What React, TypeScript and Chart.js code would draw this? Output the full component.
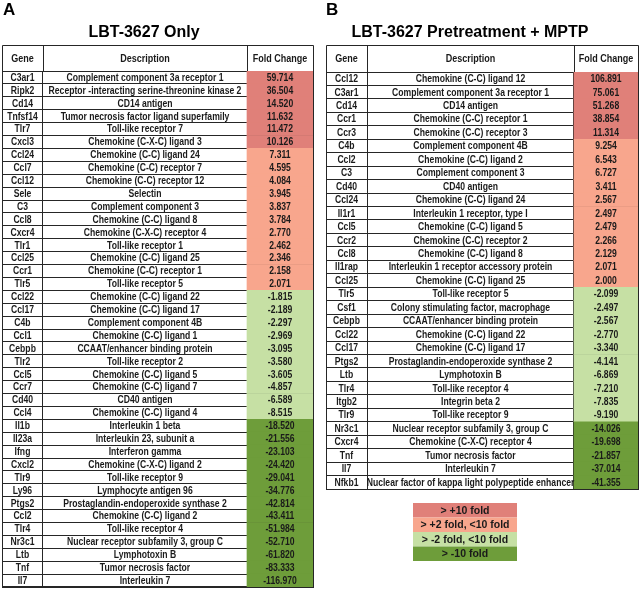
import React, { useEffect, useRef } from "react";
import { Chart, registerables } from "chart.js";
Chart.register(...registerables);

// ---------- data ----------
const genesA = ["C3ar1","Ripk2","Cd14","Tnfsf14","Tlr7","Cxcl3","Ccl24","Ccl7","Ccl12","Sele","C3","Ccl8","Cxcr4","Tlr1","Ccl25","Ccr1","Tlr5","Ccl22","Ccl17","C4b","Ccl1","Cebpb","Tlr2","Ccl5","Ccr7","Cd40","Ccl4","Il1b","Il23a","Ifng","Cxcl2","Tlr9","Ly96","Ptgs2","Ccl2","Tlr4","Nr3c1","Ltb","Tnf","Il7"];
const descA = [
  "Complement component 3a receptor 1",
  "Receptor -interacting serine-threonine kinase 2",
  "CD14 antigen",
  "Tumor necrosis factor ligand superfamily",
  "Toll-like receptor 7",
  "Chemokine (C-X-C) ligand 3",
  "Chemokine (C-C) ligand 24",
  "Chemokine (C-C) receptor 7",
  "Chemokine (C-C) receptor 12",
  "Selectin",
  "Complement component 3",
  "Chemokine (C-C) ligand 8",
  "Chemokine (C-X-C) receptor 4",
  "Toll-like receptor 1",
  "Chemokine (C-C) ligand 25",
  "Chemokine (C-C) receptor 1",
  "Toll-like receptor 5",
  "Chemokine (C-C) ligand 22",
  "Chemokine (C-C) ligand 17",
  "Complement component 4B",
  "Chemokine (C-C) ligand 1",
  "CCAAT/enhancer binding protein",
  "Toll-like receptor 2",
  "Chemokine (C-C) ligand 5",
  "Chemokine (C-C) ligand 7",
  "CD40 antigen",
  "Chemokine (C-C) ligand 4",
  "Interleukin 1 beta",
  "Interleukin 23, subunit a",
  "Interferon gamma",
  "Chemokine (C-X-C) ligand 2",
  "Toll-like receptor 9",
  "Lymphocyte antigen 96",
  "Prostaglandin-endoperoxide synthase 2",
  "Chemokine (C-C) ligand 2",
  "Toll-like receptor 4",
  "Nuclear receptor subfamily 3, group C",
  "Lymphotoxin B",
  "Tumor necrosis factor",
  "Interleukin 7",
];
const foldA = [59.714,36.504,14.52,11.632,11.472,10.126,7.311,4.595,4.084,3.945,3.837,3.784,2.77,2.462,2.346,2.158,2.071,-1.815,-2.189,-2.297,-2.969,-3.095,-3.58,-3.605,-4.857,-6.589,-8.515,-18.52,-21.556,-23.103,-24.42,-29.041,-34.776,-42.814,-43.411,-51.984,-52.71,-61.82,-83.333,-116.97];

const genesB = ["Ccl12","C3ar1","Cd14","Ccr1","Ccr3","C4b","Ccl2","C3","Cd40","Ccl24","Il1r1","Ccl5","Ccr2","Ccl8","Il1rap","Ccl25","Tlr5","Csf1","Cebpb","Ccl22","Ccl17","Ptgs2","Ltb","Tlr4","Itgb2","Tlr9","Nr3c1","Cxcr4","Tnf","Il7","Nfkb1"];
const descB = [
  "Chemokine (C-C) ligand 12",
  "Complement component 3a receptor 1",
  "CD14 antigen",
  "Chemokine (C-C) receptor 1",
  "Chemokine (C-C) receptor 3",
  "Complement component 4B",
  "Chemokine (C-C) ligand 2",
  "Complement component 3",
  "CD40 antigen",
  "Chemokine (C-C) ligand 24",
  "Interleukin 1 receptor, type I",
  "Chemokine (C-C) ligand 5",
  "Chemokine (C-C) receptor 2",
  "Chemokine (C-C) ligand 8",
  "Interleukin 1 receptor accessory protein",
  "Chemokine (C-C) ligand 25",
  "Toll-like receptor 5",
  "Colony stimulating factor, macrophage",
  "CCAAT/enhancer binding protein",
  "Chemokine (C-C) ligand 22",
  "Chemokine (C-C) ligand 17",
  "Prostaglandin-endoperoxide synthase 2",
  "Lymphotoxin B",
  "Toll-like receptor 4",
  "Integrin beta 2",
  "Toll-like receptor 9",
  "Nuclear receptor subfamily 3, group C",
  "Chemokine (C-X-C) receptor 4",
  "Tumor necrosis factor",
  "Interleukin 7",
  "Nuclear factor of kappa light polypeptide enhancer",
];
const foldB = [106.891,75.061,51.268,38.854,11.314,9.254,6.543,6.727,3.411,2.567,2.497,2.479,2.266,2.129,2.071,2.0,-2.099,-2.497,-2.567,-2.77,-3.34,-4.141,-6.869,-7.21,-7.835,-9.19,-14.026,-19.698,-21.857,-37.014,-41.355];

const headerLabels = ["Gene", "Description", "Fold Change"];
const legendLabels = ["> +10 fold", "> +2 fold, <10 fold", "> -2 fold, <10 fold", "> -10 fold"];
const legendColors = ["#e08079", "#f8a68d", "#c6e0a4", "#6e9d3a"];

// ---------- styling / layout ----------
const LINE = "#262626";
const TEXT = "#1a1a1a";
const SANS = '"Liberation Sans", Arial, sans-serif';
const CONDENSE = 0.82;

function colorFor(v: number) {
  if (v >= 10) return legendColors[0];
  if (v > 0) return legendColors[1];
  if (v > -10) return legendColors[2];
  return legendColors[3];
}

function drawCondensed(ctx: CanvasRenderingContext2D, text: string, x: number, y: number, font: string, k = CONDENSE) {
  ctx.save();
  ctx.font = font;
  ctx.fillStyle = TEXT;
  ctx.textAlign = "center";
  ctx.textBaseline = "middle";
  ctx.translate(x, y);
  ctx.scale(k, 1);
  ctx.fillText(text, 0, 0);
  ctx.restore();
}

type TableCfg = {
  genes: string[];
  desc: string[];
  fold: number[];
  edges: number[];
  pad: { left: number; right: number; top: number; bottom: number };
  letter: string;
  title: string;
  titleX: number;
  headerH: number;
  legend?: { x: number; y: number; w: number; rowH: number };
};

const cfgA: TableCfg = {
  genes: genesA, desc: descA, fold: foldA,
  edges: [0, 41, 245, 311],
  pad: { left: 2, right: 7, top: 71, bottom: 5 },
  letter: "A", title: "LBT-3627 Only", titleX: 144, headerH: 26,
};
const cfgB: TableCfg = {
  genes: genesB, desc: descB, fold: foldB,
  edges: [0, 41, 248, 312],
  pad: { left: 6, right: 2, top: 72, bottom: 103 },
  letter: "B", title: "LBT-3627 Pretreatment + MPTP", titleX: 150, headerH: 27,
  legend: { x: 93, y: 503, w: 104, rowH: 14.5 },
};

function crisp(v: number) {
  return Math.round(v) + 0.5;
}

function makeChart(canvas: HTMLCanvasElement, c: TableCfg) {
  const tablePlugin = {
    id: "tableText" + c.letter,
    afterDraw(chart: any) {
      const ctx: CanvasRenderingContext2D = chart.ctx;
      const x = chart.scales.x;
      const y = chart.scales.y;
      const area = chart.chartArea;
      // panel letter + title
      ctx.save();
      ctx.fillStyle = "#000";
      ctx.textBaseline = "alphabetic";
      ctx.textAlign = "left";
      ctx.font = `bold 17px ${SANS}`;
      ctx.fillText(c.letter, c.letter === "A" ? 3 : 6, 15);
      ctx.textAlign = "center";
      ctx.font = `bold 16px ${SANS}`;
      ctx.fillText(c.title, c.titleX, 37);
      ctx.restore();

      // header box
      const top = area.top - c.headerH;
      ctx.save();
      ctx.strokeStyle = LINE;
      ctx.lineWidth = 1;
      ctx.beginPath();
      const xl = crisp(x.getPixelForValue(c.edges[0]));
      const xr = crisp(x.getPixelForValue(c.edges[c.edges.length - 1]));
      ctx.moveTo(xl, crisp(top));
      ctx.lineTo(xr, crisp(top));
      c.edges.forEach((e) => {
        const px = crisp(x.getPixelForValue(e));
        ctx.moveTo(px, crisp(top));
        ctx.lineTo(px, area.top);
      });
      ctx.stroke();
      ctx.restore();
      const hy = top + c.headerH / 2 + 0.5;
      headerLabels.forEach((h, i) => {
        const cx = (x.getPixelForValue(c.edges[i]) + x.getPixelForValue(c.edges[i + 1])) / 2;
        drawCondensed(ctx, h, cx, hy, `bold 11px ${SANS}`);
      });

      // cells
      const font = `bold 10.5px ${SANS}`;
      const cx0 = (x.getPixelForValue(c.edges[0]) + x.getPixelForValue(c.edges[1])) / 2;
      const cx1 = (x.getPixelForValue(c.edges[1]) + x.getPixelForValue(c.edges[2])) / 2;
      const cx2 = (x.getPixelForValue(c.edges[2]) + x.getPixelForValue(c.edges[3])) / 2;
      c.genes.forEach((g, i) => {
        const py = y.getPixelForValue(i) + 0.5;
        drawCondensed(ctx, g, cx0, py, font);
        drawCondensed(ctx, c.desc[i], cx1, py, font);
        drawCondensed(ctx, c.fold[i].toFixed(3), cx2, py, font);
      });

      // legend
      if (c.legend) {
        const L = c.legend;
        legendLabels.forEach((lab, i) => {
          ctx.fillStyle = legendColors[i];
          ctx.fillRect(L.x, L.y + i * L.rowH, L.w, L.rowH);
          ctx.save();
          ctx.font = `bold 10.5px ${SANS}`;
          ctx.fillStyle = TEXT;
          ctx.textAlign = "center";
          ctx.textBaseline = "middle";
          ctx.fillText(lab, L.x + L.w / 2, L.y + i * L.rowH + L.rowH / 2 + 0.5);
          ctx.restore();
        });
      }
    },
  };

  return new Chart(canvas, {
    type: "bar",
    data: {
      labels: c.genes,
      datasets: [
        {
          data: c.fold.map(() => [c.edges[2], c.edges[3]]) as any,
          backgroundColor: c.fold.map(colorFor),
          borderWidth: 0,
          barPercentage: 1,
          categoryPercentage: 1,
        },
      ],
    },
    options: {
      indexAxis: "y",
      responsive: false,
      animation: false,
      layout: { padding: c.pad },
      plugins: { legend: { display: false }, tooltip: { enabled: false }, title: { display: false } },
      scales: {
        x: {
          type: "linear",
          min: c.edges[0],
          max: c.edges[c.edges.length - 1],
          z: 1,
          afterBuildTicks: (s: any) => {
            s.ticks = c.edges.map((v) => ({ value: v }));
          },
          ticks: { display: false },
          grid: { color: LINE, lineWidth: 1, drawTicks: false },
          border: { display: true, color: LINE, width: 1 },
        },
        y: {
          type: "category",
          offset: true,
          z: 1,
          ticks: { display: false },
          grid: { color: LINE, lineWidth: 1, drawTicks: false, offset: true },
          border: { display: true, color: LINE, width: 1 },
        },
      },
    } as any,
    plugins: [tablePlugin],
  });
}

export default function App() {
  const refA = useRef<HTMLCanvasElement>(null);
  const refB = useRef<HTMLCanvasElement>(null);
  useEffect(() => {
    document.body.style.margin = "0";
    document.body.style.background = "#fff";
    const a = makeChart(refA.current!, cfgA);
    const b = makeChart(refB.current!, cfgB);
    return () => {
      a.destroy();
      b.destroy();
    };
  }, []);
  return (
    <div style={{ position: "absolute", left: 0, top: 0, width: 640, height: 592, background: "#fff" }}>
      <canvas ref={refA} width={320} height={592} style={{ position: "absolute", left: 0, top: 0 }} />
      <canvas ref={refB} width={320} height={592} style={{ position: "absolute", left: 320, top: 0 }} />
    </div>
  );
}
